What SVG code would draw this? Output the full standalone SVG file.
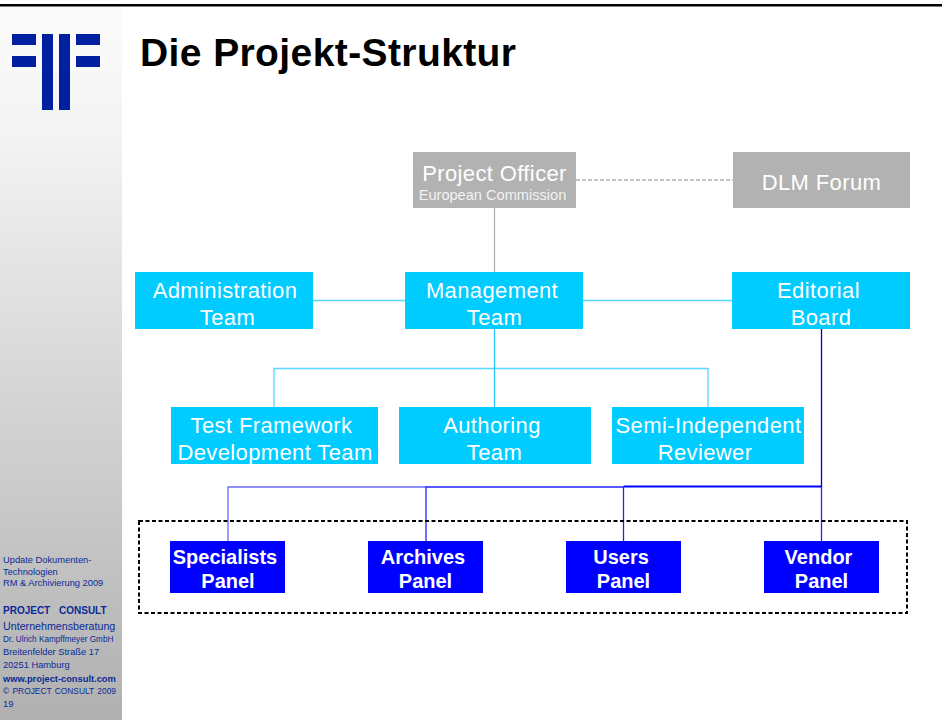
<svg xmlns="http://www.w3.org/2000/svg" width="942" height="720" viewBox="0 0 942 720">
<style>
text{font-family:"Liberation Sans",Arial,sans-serif}
.w{fill:#fff;font-size:22px;letter-spacing:.38px;text-anchor:middle}
.b{fill:#fff;font-size:20px;font-weight:bold;text-anchor:middle}
.s{fill:#0a2a96;font-size:9.300px}
.gray{fill:#b2b2b2}.cy{fill:#00ccff}.bl{fill:#0000ff}
.lg{fill:#00209f}
.c{fill:none;stroke-width:1.300}
</style>
<defs><linearGradient id="side" gradientUnits="userSpaceOnUse" x1="0" y1="6" x2="0" y2="720"><stop offset="0" stop-color="#fbfbfb"/><stop offset="0.17" stop-color="#f4f4f4"/><stop offset="1" stop-color="#b0b0b0"/></linearGradient></defs>
<rect width="942" height="720" fill="#fff"/>
<rect x="0" y="6" width="122" height="714" fill="url(#side)"/>
<rect x="0" y="4" width="942" height="2.500" fill="#000"/>
<g id="logo">
<rect class="lg" x="12" y="34" width="24" height="11"/><rect class="lg" x="12" y="56" width="24" height="11"/>
<rect class="lg" x="42" y="34" width="11" height="76"/><rect class="lg" x="59" y="34" width="11" height="76"/>
<rect class="lg" x="76" y="34" width="24" height="11"/><rect class="lg" x="76" y="56" width="24" height="11"/>
</g>
<text id="title" x="140" y="66" font-size="39" letter-spacing="0.400" font-weight="bold" fill="#000">Die Projekt-Struktur</text>
<g id="sidebar">
<text class="s" x="3" y="563">Update Dokumenten-</text>
<text class="s" x="3" y="575">Technologien</text>
<text class="s" x="3" y="586">RM &amp; Archivierung 2009</text>
<text class="s" x="3" y="614" style="font-size:10px;font-weight:bold;word-spacing:6px">PROJECT CONSULT</text>
<text class="s" x="3" y="630" style="font-size:10.700px">Unternehmensberatung</text>
<text class="s" x="3" y="642" style="font-size:8.200px">Dr. Ulrich Kampffmeyer  GmbH</text>
<text class="s" x="3" y="655">Breitenfelder Straße 17</text>
<text class="s" x="3" y="668">20251 Hamburg</text>
<text class="s" x="3" y="682" style="font-weight:bold">www.project-consult.com</text>
<text class="s" x="3" y="693.500" style="font-size:8.400px;word-spacing:1px">© PROJECT CONSULT 2009</text>
<text class="s" x="3" y="707">19</text>
</g>
<g id="connectors">
<path class="c" stroke="#b2b2b2" d="M494.500 208V272"/>
<path class="c" stroke="#b2b2b2" stroke-dasharray="4 2" d="M576 180H733"/>
<path class="c" stroke="#55d8ff" d="M313 300.500H405M583 300.500H732M274 407V368.500H708V407"/>
<path class="c" stroke="#22ccff" d="M494.500 329V407"/>
<path class="c" stroke="#0000cc" d="M821.500 329V487"/>
<path class="c" stroke="#6a6aff" stroke-width="1.500" d="M228 541V487H426"/>
<path class="c" stroke="#2222ff" d="M426 541V487H623.500M623.500 487V541M821.500 487V541"/>
<path class="c" stroke="#0000ff" style="stroke-width:2" d="M623.500 486.500H821.500"/>
<rect x="139" y="521" width="768" height="92" fill="none" stroke="#000" stroke-width="2" stroke-dasharray="4 2.500"/>
</g>
<g id="project-officer"><rect class="gray" x="413" y="152" width="163" height="56"/><text class="w" x="494.500" y="181">Project Officer</text><text x="492.500" y="200" fill="#f2f2f2" font-size="14.600" text-anchor="middle">European Commission</text></g>
<g id="dlm-forum"><rect class="gray" x="733" y="152" width="177" height="56"/><text class="w" x="821.500" y="190">DLM Forum</text></g>
<g id="administration-team"><rect class="cy" x="135" y="272" width="178" height="57"/><text class="w" x="225" y="298">Administration</text><text class="w" x="227.500" y="325">Team</text></g>
<g id="management-team"><rect class="cy" x="405" y="272" width="178" height="57"/><text class="w" x="492" y="298">Management</text><text class="w" x="494.500" y="325">Team</text></g>
<g id="editorial-board"><rect class="cy" x="732" y="272" width="178" height="57"/><text class="w" x="818.500" y="298">Editorial</text><text class="w" x="821" y="325">Board</text></g>
<g id="test-framework"><rect class="cy" x="171" y="407" width="207" height="57"/><text class="w" x="271.500" y="433">Test Framework</text><text class="w" x="275" y="460">Development Team</text></g>
<g id="authoring-team"><rect class="cy" x="399" y="407" width="192" height="57"/><text class="w" x="492" y="433">Authoring</text><text class="w" x="494.500" y="460">Team</text></g>
<g id="semi-independent"><rect class="cy" x="612" y="407" width="192" height="57"/><text class="w" x="708.500" y="433">Semi-Independent</text><text class="w" x="705" y="460">Reviewer</text></g>
<g id="specialists-panel"><rect class="bl" x="170" y="541" width="115" height="52"/><text class="b" x="225" y="564">Specialists</text><text class="b" x="228" y="588">Panel</text></g>
<g id="archives-panel"><rect class="bl" x="368" y="541" width="115" height="52"/><text class="b" x="423" y="564">Archives</text><text class="b" x="425.500" y="588">Panel</text></g>
<g id="users-panel"><rect class="bl" x="566" y="541" width="115" height="52"/><text class="b" x="621" y="564">Users</text><text class="b" x="623.500" y="588">Panel</text></g>
<g id="vendor-panel"><rect class="bl" x="764" y="541" width="115" height="52"/><text class="b" x="818.500" y="564">Vendor</text><text class="b" x="821.500" y="588">Panel</text></g>
</svg>
